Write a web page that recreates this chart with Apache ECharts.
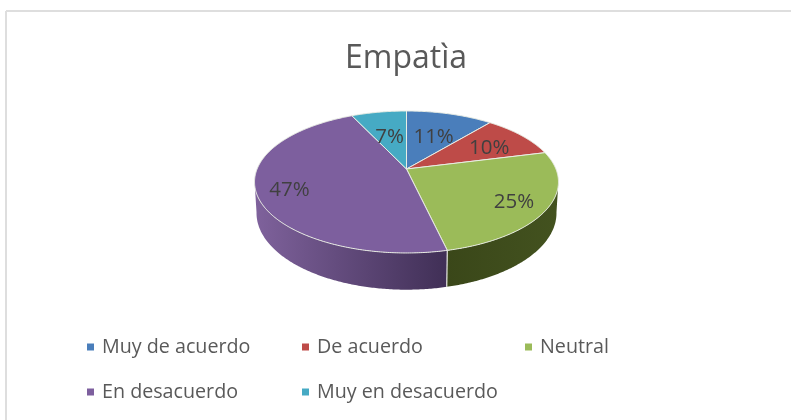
<!DOCTYPE html>
<html><head><meta charset="utf-8">
<style>html,body{margin:0;padding:0;background:#fff}#c{width:791px;height:420px}</style>
<script src="https://cdn.jsdelivr.net/npm/echarts@6/dist/echarts.min.js"></script>
</head><body><div id="c"></div>
<script>
const categories = ['Muy de acuerdo','De acuerdo','Neutral','En desacuerdo','Muy en desacuerdo'];
const values = [11, 10, 25.4, 46.6, 7];
const colors = ['#4a7ebb','#be4b48','#9bbb59','#7d5f9e','#46aac4'];
const titleText = 'Empatìa';

// view geometry of the tilted pie
const CX = 406.5, CY = 169, A = 149.4, B = 68.6, K = 0.183, DEPTH = 30;
const labelR = [0.59, 0.70, 0.78, 0.79, 0.57];
const LABEL_DY = 3;
const wallStops = {
  2: ['#43521f', '#3a4719'],
  3: ['#7f629c', '#402f56']
};
const legendPos = [[87,337],[302,337],[525,337],[87,382],[302,382]];
const FONT = '"Open Sans", sans-serif';

const total = values.reduce((a, b) => a + b, 0);
const starts = [];
values.reduce((acc, v, i) => { starts[i] = acc; return acc + v; }, 0);
const ang = v => v / total * Math.PI * 2;
function project(r, th, lower) {
  const x = r * Math.sin(th), y = -r * Math.cos(th), w = 1 - K * y;
  const s = lower ? 0.987 : 1;
  return [CX + s * A * x / w, CY + B * y / w + (lower ? DEPTH / w : 0)];
}
function arc(a0, a1, lower) {
  const pts = [], n = Math.max(2, Math.ceil((a1 - a0) / 0.01));
  for (let i = 0; i <= n; i++) pts.push(project(1, a0 + (a1 - a0) * i / n, lower));
  return pts;
}
const FRONT0 = 100 * Math.PI / 180, FRONT1 = 260 * Math.PI / 180;

function renderSlice(i) {
  return function () {
    const a0 = ang(starts[i]), a1 = ang(starts[i] + values[i]);
    const children = [];
    const w0 = Math.max(a0, FRONT0), w1 = Math.min(a1, FRONT1);
    if (w1 > w0) {
      const top = arc(w0, w1, false), bot = arc(w0, w1, true).reverse();
      const all = top.concat(bot);
      const xs = all.map(p => p[0]);
      const stops = wallStops[i] || [colors[i], colors[i]];
      const xMin = Math.min(...xs), xMax = Math.max(...xs);
      children.push({
        type: 'polygon', z2: 1,
        shape: { points: all },
        style: {
          fill: { type: 'linear', global: true, x: xMin, y: 0, x2: xMax, y2: 0,
            colorStops: [{ offset: 0, color: i === 2 ? stops[1] : stops[0] }, { offset: 1, color: i === 2 ? stops[0] : stops[1] }] },
          stroke: null
        }
      });
      if (a0 > FRONT0 && a0 < FRONT1) {
        children.push({ type: 'line', z2: 2,
          shape: { x1: project(1, a0)[0], y1: project(1, a0)[1], x2: project(1, a0, true)[0], y2: project(1, a0, true)[1] },
          style: { stroke: '#e4e6df', lineWidth: 1.2 } });
      }
    }
    const pts = [[CX, CY]].concat(arc(a0, a1, false));
    children.push({ type: 'polygon', z2: 3, shape: { points: pts },
      style: { fill: colors[i], stroke: '#e9ede4', lineWidth: 1, lineJoin: 'round' } });
    return { type: 'group', children };
  };
}
function renderLabels() {
  const children = values.map((v, i) => {
    const p = project(labelR[i], ang(starts[i] + v / 2));
    return { type: 'text', z2: 10, x: p[0], y: p[1] + LABEL_DY,
      style: { text: Math.round(v / total * 100) + '%', fill: '#404040', font: '20.5px ' + FONT, align: 'center', verticalAlign: 'middle' } };
  });
  return { type: 'group', children };
}

const series = categories.map((name, i) => ({
  type: 'custom', name, coordinateSystem: 'none', silent: true, z: 2,
  itemStyle: { color: colors[i] },
  data: [[values[i]]], renderItem: renderSlice(i), animation: false
}));
series.push({ type: 'custom', name: 'labels', coordinateSystem: 'none', silent: true, z: 5,
  data: [[0]], renderItem: renderLabels, animation: false });

const chart = echarts.init(document.getElementById('c'), null, { renderer: 'canvas' });
chart.setOption({
  animation: false,
  backgroundColor: '#ffffff',
  title: { text: titleText, left: 401, top: 38, textAlign: 'center',
    textStyle: { fontFamily: FONT, fontWeight: 'normal', fontSize: 32, color: '#595959' } },
  legend: categories.map((name, i) => ({
    data: [name], left: legendPos[i][0], top: legendPos[i][1], padding: 0,
    icon: 'rect', itemWidth: 7, itemHeight: 7,
    selectedMode: false,
    textStyle: { fontFamily: FONT, fontSize: 19.7, color: '#595959', padding: [0,0,0,3] }
  })),
  graphic: [
    { type: 'line', shape: { x1: 6, y1: 11, x2: 791, y2: 11 }, style: { stroke: '#dedede', lineWidth: 2 } },
    { type: 'line', shape: { x1: 6, y1: 11, x2: 6, y2: 420 }, style: { stroke: '#dedede', lineWidth: 2 } }
  ],
  series
});
</script></body></html>
